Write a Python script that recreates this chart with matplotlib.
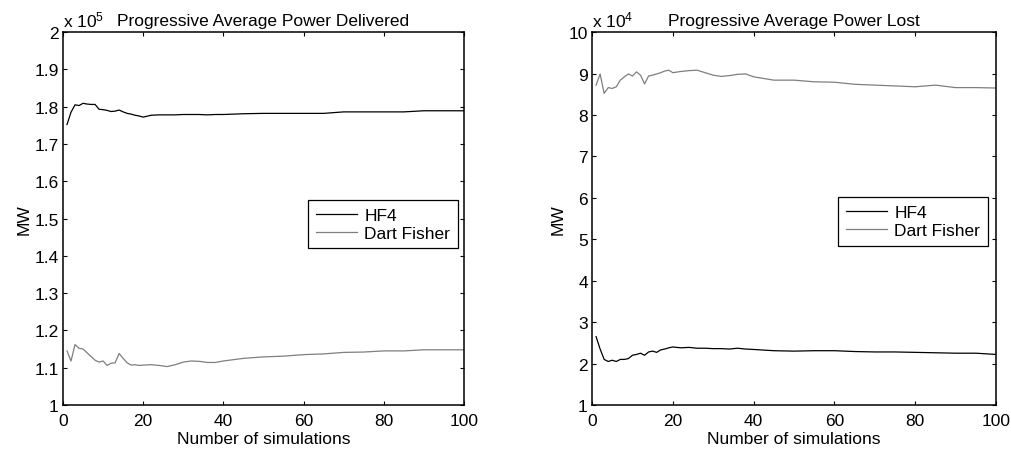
import matplotlib
matplotlib.use('Agg')
import matplotlib.pyplot as plt

plt.rcParams['font.family'] = ['Liberation Sans', 'DejaVu Sans']
plt.rcParams['mathtext.default'] = 'regular'
plt.rcParams['font.size'] = 12.5

# number of simulations
sims = [1, 2, 3, 4, 5, 6, 7, 8, 9, 10, 11, 12, 13, 14, 15, 16, 17, 18, 19, 20,
        22, 24, 26, 28, 30, 32, 34, 36, 38, 40,
        45, 50, 55, 60, 65, 70, 75, 80, 85, 90, 95, 100]

# progressive average power delivered, x 10^5 MW
delivered_hf4 = [1.752, 1.785, 1.805, 1.803, 1.809, 1.807, 1.806, 1.806, 1.793, 1.792,
                 1.790, 1.787, 1.788, 1.791, 1.786, 1.782, 1.780, 1.777, 1.775, 1.772,
                 1.777, 1.778, 1.778, 1.778, 1.779, 1.779, 1.779, 1.778, 1.779, 1.779,
                 1.781, 1.782, 1.782, 1.782, 1.782, 1.786, 1.786, 1.786, 1.786, 1.789,
                 1.789, 1.789]
delivered_dart = [1.145, 1.118, 1.162, 1.152, 1.150, 1.140, 1.130, 1.120, 1.115, 1.118,
                  1.106, 1.112, 1.113, 1.138, 1.125, 1.113, 1.107, 1.108, 1.106, 1.107,
                  1.108, 1.106, 1.103, 1.108, 1.115, 1.118, 1.117, 1.114, 1.114, 1.118,
                  1.125, 1.129, 1.131, 1.135, 1.137, 1.141, 1.142, 1.145, 1.145, 1.148,
                  1.148, 1.148]

# progressive average power lost, x 10^4 MW
lost_hf4 = [2.65, 2.35, 2.10, 2.05, 2.08, 2.05, 2.10, 2.10, 2.12, 2.20,
            2.22, 2.25, 2.20, 2.28, 2.30, 2.27, 2.33, 2.35, 2.38, 2.40,
            2.38, 2.39, 2.37, 2.37, 2.36, 2.36, 2.35, 2.37, 2.35, 2.34,
            2.31, 2.30, 2.31, 2.31, 2.29, 2.28, 2.28, 2.27, 2.26, 2.25,
            2.25, 2.22]
lost_dart = [8.72, 8.99, 8.52, 8.66, 8.64, 8.68, 8.84, 8.92, 8.99, 8.94,
             9.04, 8.96, 8.75, 8.94, 8.96, 8.99, 9.02, 9.06, 9.08, 9.02,
             9.05, 9.07, 9.08, 9.02, 8.96, 8.93, 8.95, 8.98, 8.99, 8.92,
             8.84, 8.84, 8.80, 8.79, 8.74, 8.72, 8.70, 8.68, 8.72, 8.66,
             8.66, 8.65]

xticks = [0, 20, 40, 60, 80, 100]
yticks_delivered = [1, 1.1, 1.2, 1.3, 1.4, 1.5, 1.6, 1.7, 1.8, 1.9, 2]
yticks_lost = [1, 2, 3, 4, 5, 6, 7, 8, 9, 10]


def style_axes(ax, title, exponent, yticks, legend_anchor):
    ax.set_xlim(0, 100)
    ax.set_ylim(yticks[0], yticks[-1])
    ax.set_xticks(xticks)
    ax.set_yticks(yticks)
    ax.set_yticklabels(['%g' % v for v in yticks])
    ax.tick_params(direction='in', top=True, right=True, length=3, width=0.8)
    ax.tick_params(axis='x', pad=6)
    ax.tick_params(axis='y', pad=3)
    for sp in ax.spines.values():
        sp.set_linewidth(1.1)
    ax.set_title(title, fontsize=12.5, pad=5)
    ax.set_xlabel('Number of simulations', labelpad=2)
    ax.set_ylabel('MW', labelpad=2)
    ax.text(0.0, 1.008, 'x 10$^{%d}$' % exponent, transform=ax.transAxes,
            ha='left', va='bottom', fontsize=12.5)
    leg = ax.legend(loc='center right', bbox_to_anchor=legend_anchor,
                    borderaxespad=0, fancybox=False, framealpha=1,
                    edgecolor='black', handlelength=2.4, handletextpad=0.4,
                    labelspacing=0.15, borderpad=0.45, fontsize=12.5)
    leg.get_frame().set_linewidth(0.9)


fig = plt.figure(figsize=(10.11, 4.52), dpi=100)
ax1 = fig.add_axes([0.0623, 0.1018, 0.3966, 0.825])
ax2 = fig.add_axes([0.5856, 0.1018, 0.3996, 0.825])

ax1.plot(sims, delivered_hf4, color='black', lw=0.9, label='HF4')
ax1.plot(sims, delivered_dart, color='#7f7f7f', lw=0.9, label='Dart Fisher')
style_axes(ax1, 'Progressive Average Power Delivered', 5, yticks_delivered,
           (0.985, 0.485))

ax2.plot(sims, lost_hf4, color='black', lw=0.9, label='HF4')
ax2.plot(sims, lost_dart, color='#7f7f7f', lw=0.9, label='Dart Fisher')
style_axes(ax2, 'Progressive Average Power Lost', 4, yticks_lost,
           (0.980, 0.492))

fig.savefig('out.png', dpi=100)
